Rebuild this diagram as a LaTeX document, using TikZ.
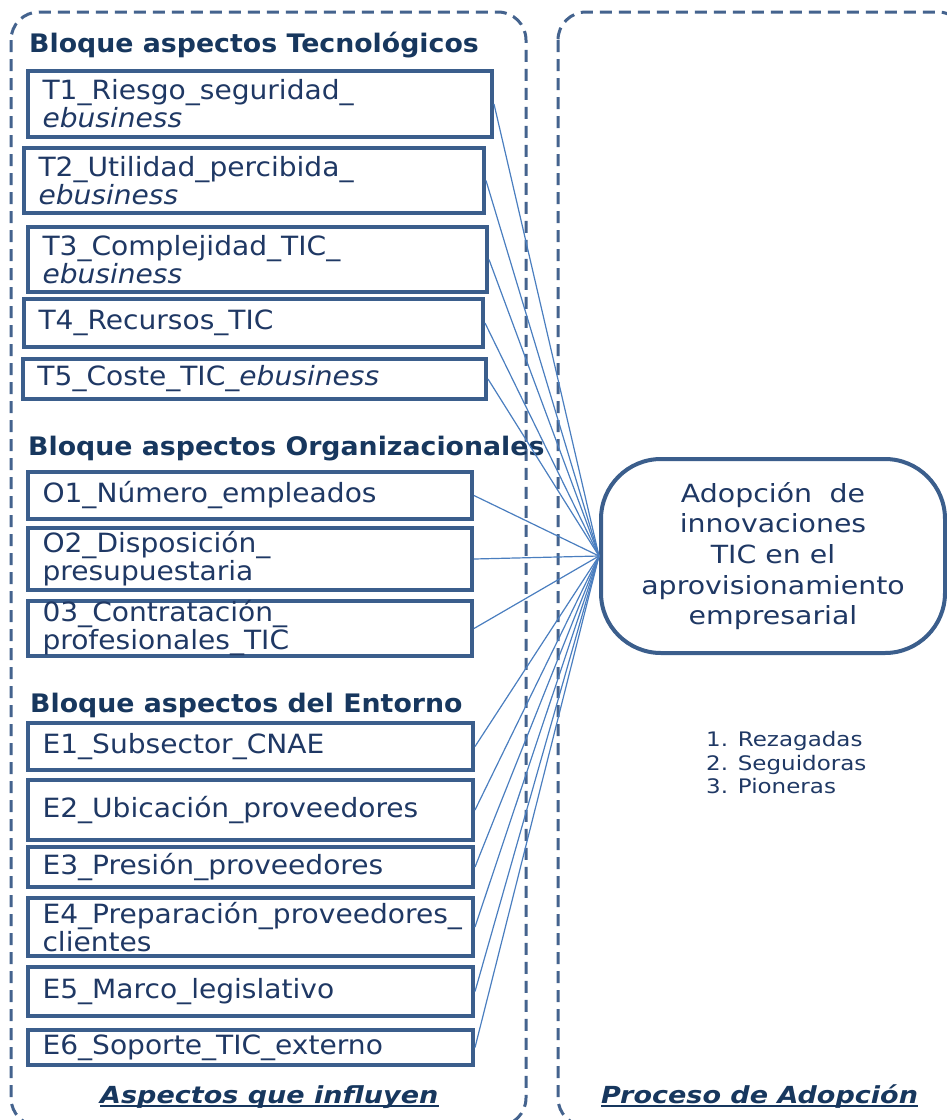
\documentclass[tikz,border=0pt]{standalone}
\usepackage{fontspec}
\setmainfont{DejaVu Sans}
\newfontfamily\boxfont[FakeStretch=1.06]{DejaVu Sans}
\newfontfamily\headfont[FakeStretch=1.05]{DejaVu Sans}
\newfontfamily\ovalfont[FakeStretch=1.135]{DejaVu Sans}
\newfontfamily\widefont[FakeStretch=1.15]{DejaVu Sans}

\definecolor{boxc}{HTML}{3B5E8C}
\definecolor{txtc}{HTML}{1F3864}
\definecolor{headc}{HTML}{17375E}
\definecolor{linec}{HTML}{4A7EBF}
\definecolor{framec}{HTML}{44638E}

\tikzset{
  frame/.style={draw=framec, line width=3pt, dash pattern=on 12pt off 7pt, rounded corners=28pt},
  box/.style={draw=boxc, line width=4pt, fill=white, inner xsep=14.5pt, inner ysep=0pt,
    align=left, text=txtc, font=\boxfont\fontsize{26.5}{28}\selectfont,
    execute at begin node={\hyphenpenalty=10000\exhyphenpenalty=10000}},
  head/.style={anchor=base west, inner sep=0pt, text=headc,
    font=\headfont\bfseries\fontsize{25.5}{30}\selectfont},
  oval/.style={draw=boxc, line width=4pt, fill=white, rounded corners=60pt, align=center,
    text=txtc, font=\ovalfont\fontsize{25}{30.7}\selectfont},
  listtxt/.style={anchor=west, inner sep=0pt, align=left, text=txtc,
    font=\widefont\fontsize{20}{23.5}\selectfont},
  lab/.style={anchor=base west, inner sep=0pt, text=headc,
    font=\widefont\bfseries\itshape\fontsize{23.5}{27}\selectfont},
  uline/.style={draw=headc, line width=2pt},
  conn/.style={draw=linec, line width=1.2pt}
}

\begin{document}
\begin{tikzpicture}[x=1pt,y=-1pt]
\useasboundingbox (0,0) rectangle (947,1120);

% dashed group frames
\begin{scope}
  \clip (0,0) rectangle (947,1120);
  \draw[frame] (11,12) rectangle (526,1126);
  \draw[frame] (558,12) rectangle (966,1126);
\end{scope}

% block headings
\node[head] (hT) at (29,52) {Bloque aspectos Tecnológicos};
\node[head] (hO) at (28,455) {Bloque aspectos Organizacionales};
\node[head] (hE) at (30,712) {Bloque aspectos del Entorno};

% technological factors
\node[box, minimum width=464, minimum height=66, text width=435] (T1) at (260,104)
  {T1\_Riesgo\_seguridad\_\\\textit{ebusiness}};
\node[box, minimum width=460, minimum height=65, text width=431] (T2) at (254,180.5)
  {T2\_Utilidad\_percibida\_\\\textit{ebusiness}};
\node[box, minimum width=459, minimum height=65, text width=430] (T3) at (257.5,259.5)
  {T3\_Complejidad\_TIC\_\\\textit{ebusiness}};
\node[box, minimum width=459, minimum height=48, text width=430] (T4) at (253.5,323)
  {T4\_Recursos\_TIC};
\node[box, minimum width=463, minimum height=40, text width=434] (T5) at (254.5,379)
  {T5\_Coste\_TIC\_\textit{ebusiness}};

% organisational factors
\node[box, minimum width=444, minimum height=47, text width=415] (O1) at (250,495.5)
  {O1\_Número\_empleados};
\node[box, minimum width=444, minimum height=62, text width=415] (O2) at (250,559)
  {O2\_Disposición\_\\presupuestaria};
\node[box, minimum width=444, minimum height=53, text width=415] (O3) at (250,628.5)
  {03\_Contratación\_\\profesionales\_TIC};

% environment factors
\node[box, minimum width=445, minimum height=47, text width=416] (E1) at (250.5,746.5)
  {E1\_Subsector\_CNAE};
\node[box, minimum width=445, minimum height=60, text width=416] (E2) at (250.5,810)
  {E2\_Ubicación\_proveedores};
\node[box, minimum width=445, minimum height=40, text width=416] (E3) at (250.5,867)
  {E3\_Presión\_proveedores};
\node[box, minimum width=445, minimum height=58, text width=416] (E4) at (250.5,927)
  {E4\_Preparación\_proveedores\_\\clientes};
\node[box, minimum width=445, minimum height=49, text width=416] (E5) at (250.5,991.5)
  {E5\_Marco\_legislativo};
\node[box, minimum width=445, minimum height=35, text width=416] (E6) at (250.5,1047.5)
  {E6\_Soporte\_TIC\_externo};

% adoption outcome
\node[oval, minimum width=344, minimum height=194] (ov) at (773,556)
  {Adopción\hspace{0.7em}de\\innovaciones\\TIC en el\\aprovisionamiento\\empresarial};

\node[listtxt] (lst) at (706,763) {1. Rezagadas\\2. Seguidoras\\3. Pioneras};

% influence connectors
\foreach \n in {T1,T2,T3,T4,T5,O1,O2,O3,E1,E2,E3,E4,E5,E6}
  \draw[conn] (\n.east) -- (ov.west);

% column captions
\node[lab] (la) at (100,1103) {Aspectos que influyen};
\draw[uline] ([yshift=-3pt]la.base west) -- ([yshift=-3pt]la.base east);
\node[lab] (lb) at (601,1103) {Proceso de Adopción};
\draw[uline] ([yshift=-3pt]lb.base west) -- ([yshift=-3pt]lb.base east);
\end{tikzpicture}
\end{document}
